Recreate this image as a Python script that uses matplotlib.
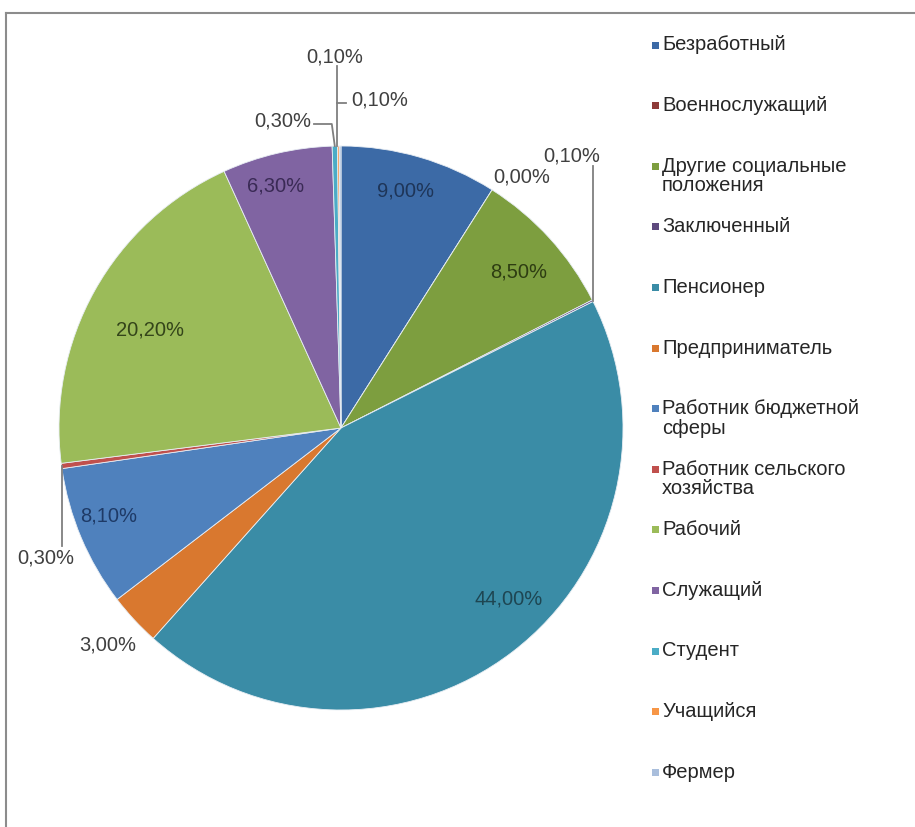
import numpy as np
import matplotlib.pyplot as plt
from matplotlib.patches import Rectangle

plt.rcParams['font.family'] = ['Liberation Sans', 'DejaVu Sans']

# данные диаграммы
categories = ['Безработный', 'Военнослужащий', 'Другие социальные\nположения',
              'Заключенный', 'Пенсионер', 'Предприниматель',
              'Работник бюджетной\nсферы', 'Работник сельского\nхозяйства',
              'Рабочий', 'Служащий', 'Студент', 'Учащийся', 'Фермер']
values = [9.0, 0.0, 8.5, 0.1, 44.0, 3.0, 8.1, 0.3, 20.2, 6.3, 0.3, 0.1, 0.1]
colors = ['#3C6AA6', '#8E3A38', '#7D9E3F', '#5E4A7E', '#3A8CA6', '#D9782F',
          '#4F81BD', '#C0504D', '#9BBB59', '#8064A2', '#4BACC6', '#F79646', '#A9BEDC']
label_colors = ['#1E3558', '#404040', '#2E3D12', '#404040', '#1E4652', '#404040',
                '#1E3A66', '#404040', '#34451A', '#3A2A55', '#404040', '#404040', '#404040']

W, H = 915, 827
def Y(y):  # пиксели сверху -> координаты осей
    return H - y

fig = plt.figure(figsize=(W / 100, H / 100), dpi=100)
ax = fig.add_axes([0, 0, 1, 1])

cx, cy, R = 341, 428, 282
ax.pie(values, colors=colors, startangle=90, counterclock=False,
       center=(cx, Y(cy)), radius=R,
       wedgeprops=dict(linewidth=0.6, edgecolor='#e8eef4'))
ax.set_xlim(0, W)
ax.set_ylim(0, H)
ax.set_aspect('equal')
ax.axis('off')

vals = np.array(values)
cum = np.cumsum(vals) - vals / 2
mid = np.deg2rad(90 - 3.6 * cum)

def edge(i, k=1.0):
    return cx + k * R * np.cos(mid[i]), Y(cy) + k * R * np.sin(mid[i])

def fmt(v):
    return ('%.2f%%' % v).replace('.', ',')

fs = 14.5
# подписи внутри секторов: (индекс, доля радиуса, поправка угла)
inside = [(0, 0.87, 1), (2, 0.84, -1), (4, 0.85, 7), (6, 0.88, -2), (8, 0.76, 2), (9, 0.89, 2)]
for i, k, da in inside:
    a = mid[i] + np.deg2rad(da)
    ax.text(cx + k * R * np.cos(a), Y(cy) + k * R * np.sin(a), fmt(values[i]),
            ha='center', va='center', fontsize=fs, color=label_colors[i])

lc = '#7f7f7f'
grey = '#404040'
# Военнослужащий
ax.text(522, Y(177), fmt(values[1]), ha='center', va='center', fontsize=fs, color=grey)
# Заключенный
x0, y0 = edge(3)
ax.plot([x0, x0], [y0, Y(166)], color=lc, lw=1.3)
ax.text(x0 + 7, Y(156), fmt(values[3]), ha='right', va='center', fontsize=fs, color=grey)
# Предприниматель
x0, y0 = edge(5, 1.13)
ax.text(x0, y0, fmt(values[5]), ha='center', va='center', fontsize=fs, color=grey)
# Работник сельского хозяйства
x0, y0 = edge(7)
ax.plot([x0, x0], [y0, Y(546)], color=lc, lw=1.3)
ax.text(x0 - 16, Y(558), fmt(values[7]), ha='center', va='center', fontsize=fs, color=grey)
# Студент
x0, y0 = edge(10)
ax.plot([x0, x0 - 3, 314], [y0, Y(124), Y(124)], color=lc, lw=1.3)
ax.text(311, Y(121), fmt(values[10]), ha='right', va='center', fontsize=fs, color=grey)
# Учащийся и Фермер
x0, y0 = edge(12)
ax.plot([x0 - 3, x0 - 3], [y0, Y(66)], color=lc, lw=1.3)
ax.plot([x0 - 3, x0 + 6], [Y(103), Y(103)], color=lc, lw=1.3)
ax.text(x0 + 11, Y(100), fmt(values[12]), ha='left', va='center', fontsize=fs, color=grey)
ax.text(x0 - 5, Y(57), fmt(values[11]), ha='center', va='center', fontsize=fs, color=grey)

# легенда
for i, (cat, col) in enumerate(zip(categories, colors)):
    yy = 45 + 60.6 * i
    ax.add_patch(Rectangle((652, Y(yy) - 3.5), 7, 7, color=col, lw=0))
    for j, line in enumerate(cat.split('\n')):
        ax.text(662, Y(yy + 19.5 * j), line, ha='left', va='center',
                fontsize=fs, color='#262626')

# рамка
ax.plot([6, W], [Y(13), Y(13)], color='#8c8c8c', lw=1.5, clip_on=False)
ax.plot([6, 6], [Y(13), 0], color='#8c8c8c', lw=1.5, clip_on=False)

fig.savefig('out.png', dpi=100)
